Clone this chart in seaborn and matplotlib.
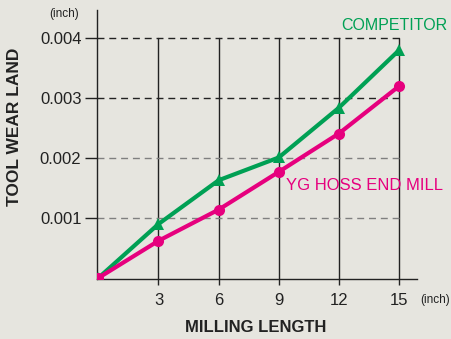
import matplotlib
matplotlib.use("Agg")
import matplotlib.pyplot as plt
import seaborn as sns
import pandas as pd

# Milling length (inch) and tool wear land (inch) for each tool
milling_length = [0, 3, 6, 9, 12, 15]
competitor_wear = [0, 0.00090, 0.00163, 0.00201, 0.00284, 0.00380]
yg_hoss_wear = [0, 0.00062, 0.00114, 0.00177, 0.00241, 0.00320]
x_ticks = [3, 6, 9, 12, 15]
y_ticks = [0.001, 0.002, 0.003, 0.004]
y_tick_labels = ["0.001", "0.002", "0.003", "0.004"]

BG = "#e6e5df"
GREEN = "#00a054"
PINK = "#e6007e"

sns.set_theme(style="white")
plt.rcParams["font.family"] = ["Liberation Sans", "DejaVu Sans"]

df = pd.DataFrame({
    "length": milling_length * 2,
    "wear": competitor_wear + yg_hoss_wear,
    "tool": ["COMPETITOR"] * len(milling_length) + ["YG HOSS END MILL"] * len(milling_length),
})

fig = plt.figure(figsize=(4.51, 3.39), dpi=100, facecolor=BG)
ax = fig.add_axes([96.7 / 451, 60 / 339, (416.7 - 96.7) / 451, (279 - 10) / 339])
ax.set_facecolor(BG)

xmin, xmax = -0.08, 15.88
ymin, ymax = -0.0000167, 0.00447
ax.set_xlim(xmin, xmax)
ax.set_ylim(ymin, ymax)

# grid: solid verticals, dashed horizontals
for xv in x_ticks:
    ax.plot([xv, xv], [ymin, 0.004], color="#222222", lw=1.0, zorder=1)
for yv in y_ticks:
    col = "#222222" if yv >= 0.003 else "#808080"
    ax.plot([xmin, 15], [yv, yv], color=col, lw=1.0, ls=(0, (5, 3.5)), zorder=1)

sns.lineplot(data=df, x="length", y="wear", hue="tool", style="tool",
             palette={"COMPETITOR": GREEN, "YG HOSS END MILL": PINK},
             markers={"COMPETITOR": "^", "YG HOSS END MILL": "o"},
             dashes=False, markersize=8, markeredgewidth=0, linewidth=3,
             legend=False, ax=ax, zorder=3)

for s in ["top", "right"]:
    ax.spines[s].set_visible(False)
for s in ["left", "bottom"]:
    ax.spines[s].set_color("#222222")
    ax.spines[s].set_linewidth(1.0)

ax.set_xticks(x_ticks)
ax.set_xticklabels([str(v) for v in x_ticks])
ax.set_yticks(y_ticks)
ax.set_yticklabels(y_tick_labels)
ax.tick_params(axis="both", direction="out", length=9, width=1.0, color="#222222",
               labelsize=12, labelcolor="#222222", pad=2)
ax.tick_params(axis="x", length=4, pad=6)
ax.tick_params(axis="y", left=True)
ax.tick_params(axis="x", bottom=True)
ax.set_xlabel("")
ax.set_ylabel("")

fig.text(64 / 451, 1 - 14 / 339, "(inch)", fontsize=8.5, color="#222222", ha="center", va="center")
fig.text(435 / 451, 1 - 300 / 339, "(inch)", fontsize=8.5, color="#222222", ha="center", va="center")
fig.text(15 / 451, 1 - 127 / 339, "TOOL WEAR LAND", rotation=90, fontsize=12.5,
         fontweight="bold", color="#222222", ha="center", va="center")
fig.text(256 / 451, 1 - 327 / 339, "MILLING LENGTH", fontsize=12,
         fontweight="bold", color="#222222", ha="center", va="center")
fig.text(341 / 451, 1 - 26 / 339, "COMPETITOR", fontsize=11.5, color=GREEN,
         ha="left", va="center")
fig.text(286 / 451, 1 - 186 / 339, "YG HOSS END MILL", fontsize=12, color=PINK,
         ha="left", va="center")

fig.savefig("out.png", dpi=100, facecolor=BG)
